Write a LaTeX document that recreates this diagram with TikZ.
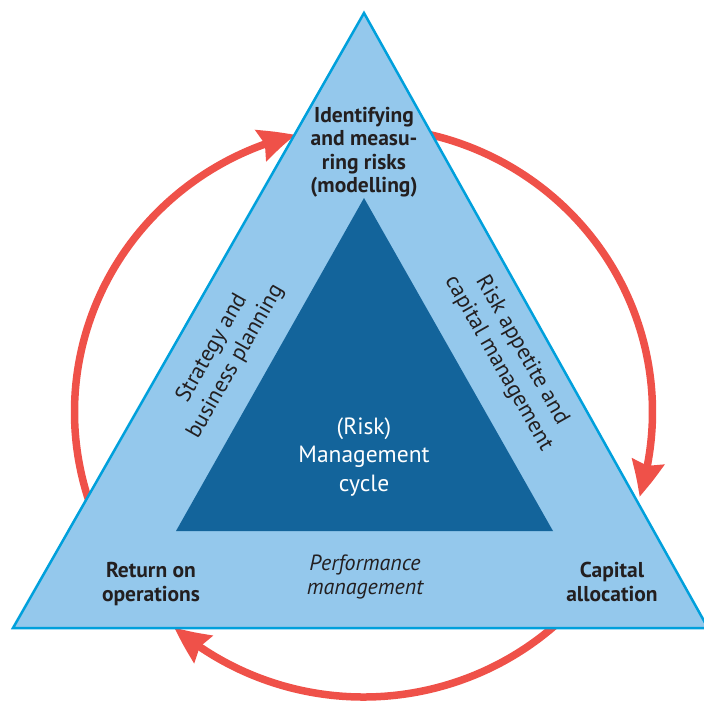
\documentclass[tikz,border=0pt]{standalone}
\usepackage{fontspec}
\setmainfont{PT Sans}
\usetikzlibrary{arrows.meta,bending}
\definecolor{outerblue}{HTML}{94C8EC}
\definecolor{edgeblue}{HTML}{00A0DC}
\definecolor{innerblue}{HTML}{13649B}
\definecolor{arcred}{HTML}{EF5149}
\definecolor{txt}{HTML}{231F20}
\begin{document}
\begin{tikzpicture}[x=1pt,y=-1pt,
  cyclearrow/.style={draw=arcred, line width=7.5pt,
    -{Stealth[length=36pt,width=32pt,inset=4pt,bend]}},
  outertri/.style={fill=outerblue, draw=edgeblue, line width=2.5pt, line join=miter},
  innertri/.style={fill=innerblue},
  cornerlabel/.style={inner sep=0pt, align=center, text=txt,
    font=\fontsize{21.5}{23.5}\selectfont\bfseries},
  centrelabel/.style={inner sep=0pt, align=center, text=white,
    font=\fontsize{23.5}{28.5}\selectfont},
  sidelabel/.style={inner sep=0pt, align=center, text=txt,
    font=\fontsize{22.5}{27}\selectfont},
  baselabel/.style={inner sep=0pt, align=center, text=txt,
    font=\fontsize{22}{23.5}\selectfont\itshape}]
\useasboundingbox (0,0) rectangle (704,702);
% cycle centre
\coordinate (C) at (363.5,412);
% red cycle arrows (under the triangle)
\draw[cyclearrow] ([shift={(155:289 and 285)}]C) coordinate (la)
  arc[start angle=155, end angle=256.4, x radius=289, y radius=285] coordinate (lb);
\draw[cyclearrow] ([shift={(280:289 and 285)}]C) coordinate (ra)
  arc[start angle=280, end angle=377.3, x radius=289, y radius=285] coordinate (rb);
\draw[cyclearrow] ([shift={(40:289 and 285)}]C) coordinate (ba)
  arc[start angle=40, end angle=130.9, x radius=289, y radius=285] coordinate (bb);
% outer triangle
\coordinate (oT) at (364,13);
\coordinate (oL) at (13,628);
\coordinate (oR) at (708,628);
\draw[outertri] (oT) -- (oL) -- (oR) -- cycle;
% inner triangle
\coordinate (iT) at (364,198);
\coordinate (iL) at (176,531);
\coordinate (iR) at (553,531);
\fill[innertri] (iT) -- (iL) -- (iR) -- cycle;
% labels
\node[cornerlabel] (ident) at (364,152) {Identifying\\and measu-\\ring risks\\(modelling)};
\node[cornerlabel] (ret) at (151,584) {Return on\\operations};
\node[cornerlabel] (cap) at (612,582) {Capital\\allocation};
\node[centrelabel] (cycle) at (364,457) {(Risk)\\Management\\cycle};
\node[baselabel] (perf) at (365,577) {Performance\\management};
\node[sidelabel, rotate=60.4] (strat) at (224,355) {Strategy and\\business planning};
\node[sidelabel, rotate=-60.4] (appetite) at (510,357) {Risk appetite and\\capital management};
\end{tikzpicture}
\end{document}
